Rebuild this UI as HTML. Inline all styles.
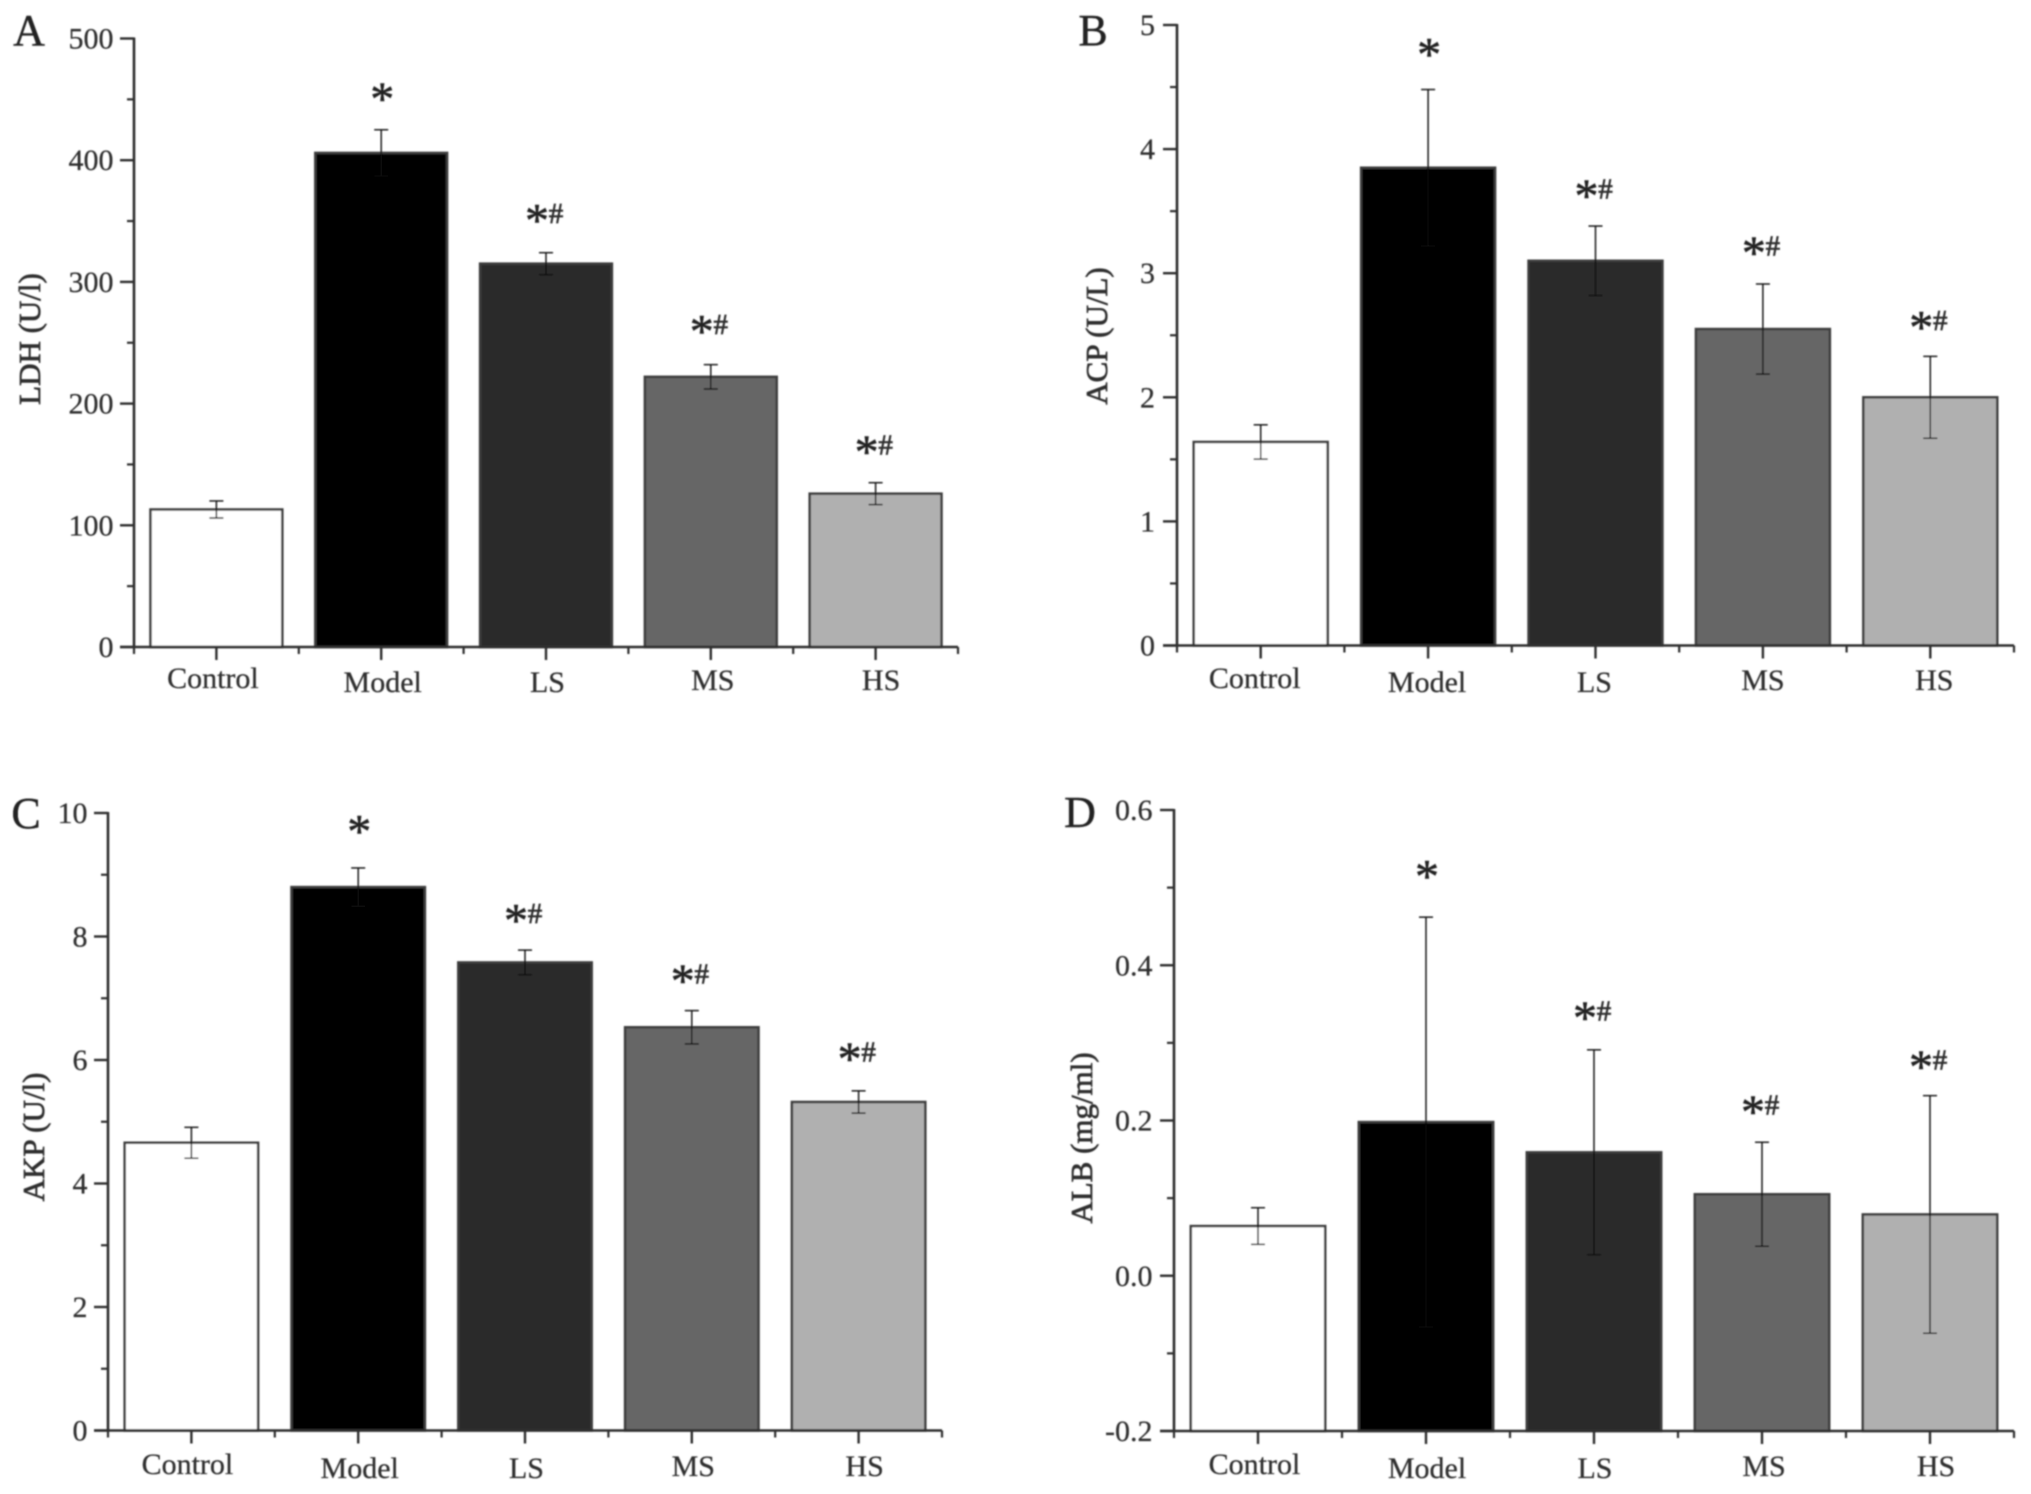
<!DOCTYPE html>
<html lang="en">
<head>
<meta charset="utf-8">
<title>Serum biochemical markers bar charts</title>
<style>
html,body{margin:0;padding:0;background:#fff;}
svg{display:block;}
text{font-family:"Liberation Serif",serif;fill:#2e2e2e;stroke:#2e2e2e;stroke-width:0.25px;}
</style>
</head>
<body>
<svg id="figure" xmlns="http://www.w3.org/2000/svg" width="2031" height="1494" viewBox="0 0 2031 1494">
<defs><filter id="soft" x="-2%" y="-2%" width="104%" height="104%"><feGaussianBlur stdDeviation="0.7"/></filter></defs>
<rect x="0" y="0" width="2031" height="1494" fill="#ffffff"/>
<g id="root" filter="url(#soft)"></g>
</svg>
<script>
const categories = ['Control', 'Model', 'LS', 'MS', 'HS'];
const barColors = ['#ffffff', '#000000', '#2a2a2a', '#666666', '#b0b0b0'];
const annotations = ['', '*', '*#', '*#', '*#'];

const ldhValues = [113, 406, 315, 222, 126];
const ldhErrors = [7, 19, 9, 10, 9];
const ldhMarkLevels = [null, 454, 354, 263, 164];
const ldhTicks = [0, 100, 200, 300, 400, 500];
const ldhTickLabels = ['0', '100', '200', '300', '400', '500'];

const acpValues = [1.64, 3.85, 3.10, 2.55, 2.00];
const acpErrors = [0.138, 0.63, 0.28, 0.363, 0.33];
const acpMarkLevels = [null, 4.80, 3.66, 3.20, 2.60];
const acpTicks = [0, 1, 2, 3, 4, 5];
const acpTickLabels = ['0', '1', '2', '3', '4', '5'];

const akpValues = [4.66, 8.80, 7.58, 6.53, 5.32];
const akpErrors = [0.25, 0.31, 0.2, 0.27, 0.18];
const akpMarkLevels = [null, 9.77, 8.33, 7.35, 6.09];
const akpTicks = [0, 2, 4, 6, 8, 10];
const akpTickLabels = ['0', '2', '4', '6', '8', '10'];

const albValues = [0.064, 0.198, 0.159, 0.105, 0.079];
const albErrors = [0.0236, 0.264, 0.132, 0.067, 0.153];
const albMarkLevels = [null, 0.52, 0.338, 0.217, 0.275];
const albTicks = [-0.2, 0, 0.2, 0.4, 0.6];
const albTickLabels = ['-0.2', '0.0', '0.2', '0.4', '0.6'];

const NS = 'http://www.w3.org/2000/svg';
const root = document.getElementById('root');

function make(tag, parent, attrs) {
  const node = document.createElementNS(NS, tag);
  for (const k in attrs) node.setAttribute(k, attrs[k]);
  parent.appendChild(node);
  return node;
}

function drawPanel(p) {
  const g = make('g', root, {});
  
  

  const yMin = p.ticks[0];
  const yMax = p.ticks[p.ticks.length - 1];
  const yScale = v => p.yBottom + (v - yMin) / (yMax - yMin) * (p.yTop - p.yBottom);
  const band = (p.x1 - p.x0) / categories.length;
  const xCenter = i => p.x0 + band * (i + 0.5);
  const barWidth = band * 0.8;

  categories.forEach((cat, i) => {
    const top = yScale(p.values[i]);
    const bar = make('rect', g, {
      x: xCenter(i) - barWidth / 2, y: top,
      width: barWidth, height: p.yBottom - top,
      fill: barColors[i], stroke: '#3c3c3c', 'stroke-width': 2.5
    });
    
    
  });

  categories.forEach((cat, i) => {
    const hi = yScale(p.values[i] + p.errors[i]);
    const lo = yScale(p.values[i] - p.errors[i]);
    const cx = xCenter(i);
    const eg = make('g', g, { stroke: '#0a0a0a', 'stroke-width': 1.4, fill: 'none' });
    
    
    make('line', eg, { x1: cx, x2: cx, y1: hi, y2: lo });
    make('line', eg, { x1: cx - 7, x2: cx + 7, y1: hi, y2: hi });
    make('line', eg, { x1: cx - 7, x2: cx + 7, y1: lo, y2: lo });
  });

  const yAxis = make('line', g, { x1: p.x0, x2: p.x0, y1: p.yTop - 1, y2: p.yBottom + 1, stroke: '#2e2e2e', 'stroke-width': 2.6 });
  
  

  const xAxis = make('line', g, { x1: p.x0 - 14, x2: p.x1, y1: p.yBottom, y2: p.yBottom, stroke: '#2e2e2e', 'stroke-width': 2.6 });
  
  

  p.ticks.forEach((t, i) => {
    const y = yScale(t);
    const tick = make('line', g, { x1: p.x0 - 14, x2: p.x0, y1: y, y2: y, stroke: '#2e2e2e', 'stroke-width': 2.4 });
    
    

    const label = make('text', g, { x: p.tickRight, y: y + 10, 'text-anchor': 'end', 'font-size': 30 });
    label.textContent = p.tickLabels[i];
    
    

    if (i < p.ticks.length - 1) {
      const my = yScale((t + p.ticks[i + 1]) / 2);
      const minor = make('line', g, { x1: p.x0 - 7, x2: p.x0, y1: my, y2: my, stroke: '#2e2e2e', 'stroke-width': 2.2 });
      
      
    }
  });

  categories.forEach((cat, i) => {
    const cx = xCenter(i);
    const tick = make('line', g, { x1: cx, x2: cx, y1: p.yBottom, y2: p.yBottom + 13, stroke: '#2e2e2e', 'stroke-width': 2.4 });
    
    

    const bx = p.x0 + band * (i + 1);
    const minor = make('line', g, { x1: bx, x2: bx, y1: p.yBottom, y2: p.yBottom + 7, stroke: '#2e2e2e', 'stroke-width': 2.2 });
    
    

    const label = make('text', g, { x: cx + p.labelNudge[i], y: p.labelBase + p.labelDrop[i], 'text-anchor': 'middle', 'font-size': 30 });
    label.textContent = cat;
    
    
  });

  const origin = make('line', g, { x1: p.x0, x2: p.x0, y1: p.yBottom, y2: p.yBottom + 7, stroke: '#2e2e2e', 'stroke-width': 2.2 });
  
  

  categories.forEach((cat, i) => {
    const mark = annotations[i];
    if (!mark) return;
    const cy = yScale(p.markLevels[i]);
    const both = mark.length > 1;
    const star = make('text', g, { x: xCenter(i) + (both ? -9 : 1), y: cy + 20.5, 'text-anchor': 'middle', 'font-size': 48, style: 'fill:#222;stroke:#222;stroke-width:0.6px' });
    star.textContent = '*';
    
    
    if (both) {
      const hash = make('text', g, { x: xCenter(i) + 10, y: cy + 7, 'text-anchor': 'middle', 'font-size': 29, style: 'stroke-width:0.7px' });
      hash.textContent = '#';
      
      
    }
  });

  const title = make('text', g, {
    transform: 'translate(' + p.titleX + ',' + p.titleY + ') rotate(-90)',
    'text-anchor': 'middle', 'font-size': 31, style: 'stroke-width:0.7px'
  });
  title.textContent = p.title;
  
  

  const letter = make('text', g, { x: p.letterX, y: p.letterY, 'text-anchor': 'middle', 'font-size': 44, style: 'fill:#222;stroke:#222;stroke-width:0.4px' });
  letter.textContent = p.letter;
  
  
}

drawPanel({
  letter: 'A', title: 'LDH (U/l)',
  values: ldhValues, errors: ldhErrors, markLevels: ldhMarkLevels, ticks: ldhTicks, tickLabels: ldhTickLabels,
  x0: 134, x1: 958, yTop: 38.5, yBottom: 647,
  tickRight: 113.5, labelBase: 688, labelDrop: [0, 4, 4, 2, 2], labelNudge: [-3.5, 1.5, 1.5, 2, 5.5],
  titleX: 40, titleY: 339, letterX: 29, letterY: 45
});
drawPanel({
  letter: 'B', title: 'ACP (U/L)',
  values: acpValues, errors: acpErrors, markLevels: acpMarkLevels, ticks: acpTicks, tickLabels: acpTickLabels,
  x0: 1177, x1: 2014, yTop: 25, yBottom: 645.5,
  tickRight: 1155, labelBase: 688, labelDrop: [0, 4, 4, 2, 2], labelNudge: [-6, -1, -1, 0, 4],
  titleX: 1107, titleY: 336, letterX: 1093, letterY: 45
});
drawPanel({
  letter: 'C', title: 'AKP (U/l)',
  values: akpValues, errors: akpErrors, markLevels: akpMarkLevels, ticks: akpTicks, tickLabels: akpTickLabels,
  x0: 108, x1: 942, yTop: 813, yBottom: 1430.5,
  tickRight: 87.5, labelBase: 1474, labelDrop: [0, 4, 4, 2, 2], labelNudge: [-4, 1.5, 1.5, 1.5, 6],
  titleX: 44, titleY: 1137, letterX: 26, letterY: 828
});
drawPanel({
  letter: 'D', title: 'ALB (mg/ml)',
  values: albValues, errors: albErrors, markLevels: albMarkLevels, ticks: albTicks, tickLabels: albTickLabels,
  x0: 1174, x1: 2014, yTop: 810, yBottom: 1431,
  tickRight: 1152.5, labelBase: 1474, labelDrop: [0, 4, 4, 2, 2], labelNudge: [-3.5, 1, 1, 2, 6],
  titleX: 1092, titleY: 1138, letterX: 1080, letterY: 827
});
</script>
</body>
</html>
